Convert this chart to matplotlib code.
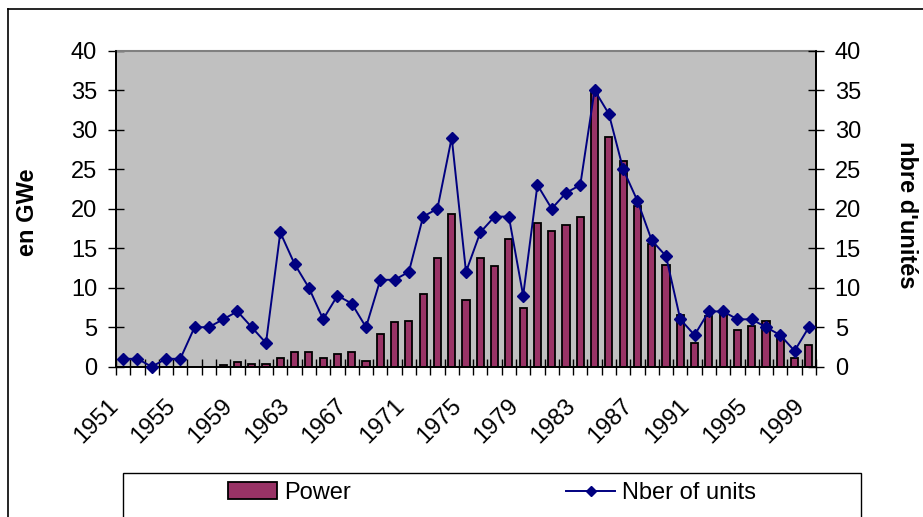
import numpy as np
import matplotlib.pyplot as plt
import matplotlib as mpl
from matplotlib.patches import Rectangle
from matplotlib.lines import Line2D
from matplotlib.transforms import ScaledTranslation

# -----------------------------
# Data (1951-1999)
# -----------------------------
years = list(range(1951, 2000))
power_gwe = [0, 0, 0, 0, 0, 0, 0, 0.2, 0.55, 0.3,
             0.3, 1.05, 1.8, 1.8, 1.05, 1.55, 1.8, 0.75, 4.1, 5.6,
             5.8, 9.2, 13.7, 19.3, 8.4, 13.7, 12.7, 16.2, 7.4, 18.2,
             17.2, 18.0, 19.0, 34.6, 29.1, 26.1, 20.3, 15.5, 12.9, 6.6,
             3.0, 6.4, 7.0, 4.6, 5.1, 5.8, 3.8, 1.05, 2.8]
n_units = [1, 1, 0, 1, 1, 5, 5, 6, 7, 5,
           3, 17, 13, 10, 6, 9, 8, 5, 11, 11,
           12, 19, 20, 29, 12, 17, 19, 19, 9, 23,
           20, 22, 23, 35, 32, 25, 21, 16, 14, 6,
           4, 7, 7, 6, 6, 5, 4, 2, 5]
label_years = years[::4]

# -----------------------------
# Style
# -----------------------------
mpl.rcParams.update({
    'font.family': ['Liberation Sans', 'DejaVu Sans'],
    'font.size': 17,
})

W, H = 923, 517
fig = plt.figure(figsize=(W / 100, H / 100), dpi=100)

def fx(px):
    return px / W

def fy(py):
    return 1 - py / H

ax = fig.add_axes([fx(116), fy(366.7), fx(816) - fx(116), fy(50.7) - fy(366.7)])
ax.set_facecolor('#C0C0C0')

x = np.arange(len(years))
ax.bar(x, power_gwe, width=0.5, color='#993366', edgecolor='black', linewidth=1.3,
       zorder=2, label='Power')

ax2 = ax.twinx()
ax2.plot(x, n_units, color='#000080', lw=1.4, marker='D', ms=6.2, mew=1,
         mec='#000080', mfc='#000080', label='Nber of units', clip_on=False, zorder=3)

for a in (ax, ax2):
    a.set_ylim(0, 40)
    a.set_yticks(np.arange(0, 41, 5))
    a.set_xlim(-0.5, len(years) - 0.5)

ax.spines['top'].set_color('#808080')
ax.spines['top'].set_linewidth(1.5)
for s in ('left', 'bottom', 'right'):
    ax.spines[s].set_linewidth(1.3)
    ax2.spines[s].set_linewidth(1.3)
ax2.spines['top'].set_visible(False)

ax.tick_params(axis='y', direction='inout', length=11, width=1, pad=8)
ax2.tick_params(axis='y', direction='inout', length=11, width=1, pad=8)

# x ticks: marks between categories, labels every 4 years
ax.set_xticks(x[::4])
ax.set_xticklabels([str(y) for y in label_years], rotation=45, ha='right',
                   va='center', rotation_mode='anchor')
ax.set_xticks(np.arange(-0.5, len(years), 1), minor=True)
ax.tick_params(axis='x', which='major', length=0, pad=14)
ax.tick_params(axis='x', which='minor', direction='inout', length=11, width=1)
shift = ScaledTranslation(-8 / 100, -16 / 100, fig.dpi_scale_trans)
for lbl in ax.get_xticklabels():
    lbl.set_transform(lbl.get_transform() + shift)

fig.text(fx(28), fy(212), 'en GWe', rotation=90, fontweight='bold',
         ha='center', va='center', fontsize=17)
fig.text(fx(906), fy(215), "nbre d'unités", rotation=-90, fontweight='bold',
         ha='center', va='center', fontsize=17)

# outer chart border (cut off right/bottom in the original)
fig.add_artist(Line2D([fx(8), fx(8)], [fy(9), 0], color='black', lw=1.2))
fig.add_artist(Line2D([fx(8), 1], [fy(9), fy(9)], color='black', lw=1.2))

# legend box
fig.add_artist(Rectangle((fx(123), fy(540)), fx(861) - fx(123), fy(473) - fy(540),
                         fill=False, edgecolor='black', lw=1.0))
h1, l1 = ax.get_legend_handles_labels()
h2, l2 = ax2.get_legend_handles_labels()
fig.legend(h1 + h2, l1 + l2, loc='center', bbox_to_anchor=(fx(492), fy(493)),
           ncol=2, frameon=False, handlelength=2.1, handletextpad=0.3,
           columnspacing=9.1, fontsize=17, markerscale=0.8)

plt.savefig('out.png', dpi=100)
